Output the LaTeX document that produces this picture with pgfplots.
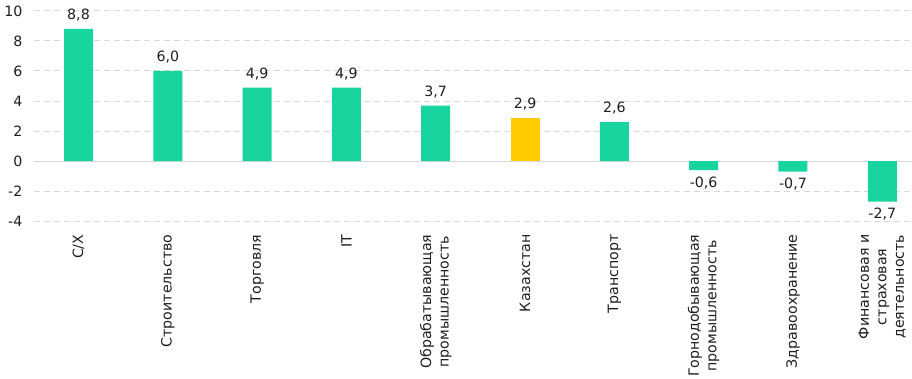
\documentclass[border=0pt]{standalone}
\usepackage{pgfplots}
\pgfplotsset{compat=1.18}
\usepackage{fontspec}
\setmainfont{DejaVu Sans}
\definecolor{barg}{RGB}{24,213,160}
\definecolor{bary}{RGB}{255,204,0}
\definecolor{gridc}{RGB}{217,217,217}
\definecolor{txt}{RGB}{30,30,30}
\pgfplotstableread{
x y
0 8.8
1 6.0
2 4.9
3 4.9
4 3.7
6 2.6
}\greenpos
\pgfplotstableread{
x y
7 -0.6
8 -0.7
9 -2.7
}\greenneg
\pgfplotstableread{
x y
5 2.9
}\yellowdata
\begin{document}
\begin{tikzpicture}[x=1bp,y=1bp]
\path[use as bounding box] (0,0) rectangle (912,378);
\begin{axis}[
  at={(33.85bp,157bp)}, anchor=south west,
  scale only axis, width=878.15bp, height=210bp,
  xmin=-0.5, xmax=9.333, ymin=-4, ymax=10,
  axis line style={draw=none},
  ytick={-4,-2,...,10}, xtick={0,...,9},
  xticklabels={С/Х, Строительство, Торговля, IT, {Обрабатывающая\\промышленность}, Казахстан, Транспорт, {Горнодобывающая\\промышленность}, Здравоохранение, {Финансовая и\\страховая\\деятельность}},
  major tick length=0pt,
  ymajorgrids,
  grid style={gridc, line width=1bp, dash pattern=on 6bp off 4bp},
  extra y ticks={0}, extra y tick labels={},
  extra y tick style={grid style={solid, gridc, line width=1bp}},
  ybar, bar width=29bp, bar shift=0pt,
  clip=false,
  /pgf/number format/assume math mode=true,
  ticklabel style={font=\fontsize{14.2bp}{17.5bp}\selectfont, text=txt},
  yticklabel style={anchor=east, xshift=-8bp, /pgf/number format/fixed zerofill=false, /pgf/number format/precision=0},
  xticklabel style={rotate=90, anchor=east, align=center, xshift=-10bp},
  nodes near coords,
  nodes near coords style={font=\fontsize{14.2bp}{17bp}\selectfont, text=txt,
    /pgf/number format/use comma, /pgf/number format/fixed,
    /pgf/number format/fixed zerofill, /pgf/number format/precision=1},
]
\addplot[fill=barg, draw=none, nodes near coords style={anchor=south, yshift=4bp}] table[x=x,y=y] {\greenpos};
\addplot[fill=barg, draw=none, nodes near coords style={anchor=north, yshift=-3bp}] table[x=x,y=y] {\greenneg};
\addplot[fill=bary, draw=none, nodes near coords style={anchor=south, yshift=4bp}] table[x=x,y=y] {\yellowdata};
\end{axis}
\end{tikzpicture}
\end{document}
